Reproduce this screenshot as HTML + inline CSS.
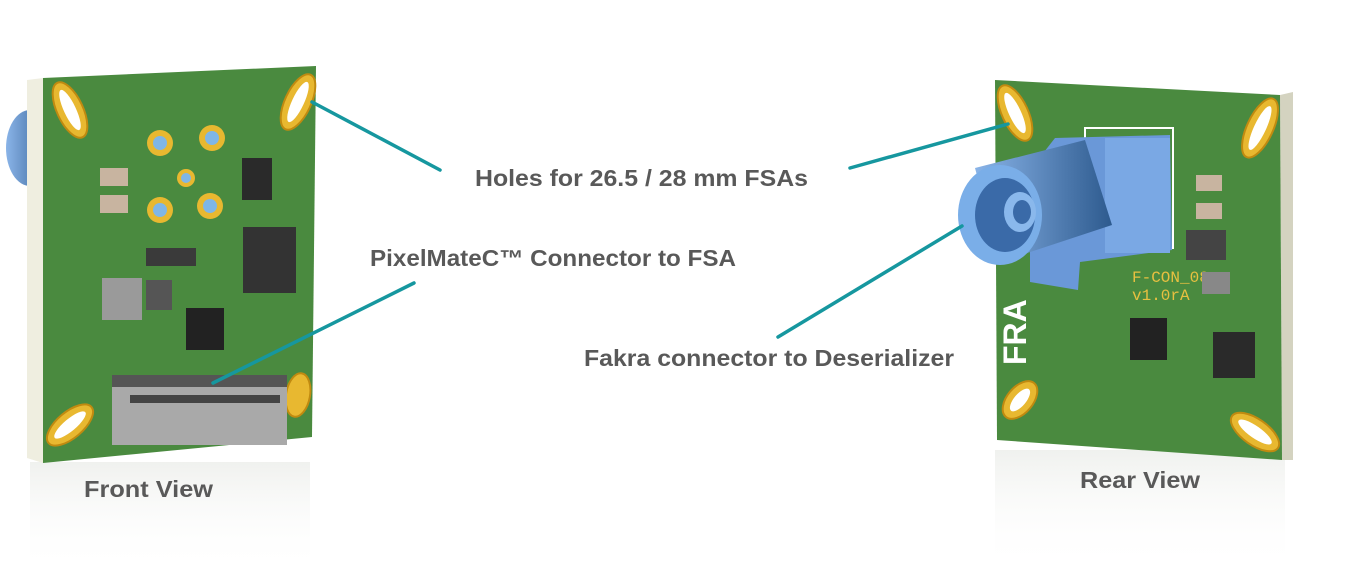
<!DOCTYPE html>
<html><head><meta charset="utf-8"><style>
html,body{margin:0;padding:0;background:#fff;}
svg{display:block}
text{font-family:"Liberation Sans",sans-serif;font-weight:bold;fill:#595959;}
</style></head><body>
<svg width="1368" height="582" viewBox="0 0 1368 582" xmlns="http://www.w3.org/2000/svg">
<defs>
<linearGradient id="refl" x1="0" y1="0" x2="0" y2="1"><stop offset="0" stop-color="#dde0da" stop-opacity="0.45"/><stop offset="1" stop-color="#fff" stop-opacity="0"/></linearGradient>
<linearGradient id="blue" x1="0" y1="0" x2="1" y2="0"><stop offset="0" stop-color="#8ab4e8"/><stop offset="1" stop-color="#2d5a8e"/></linearGradient>
</defs>
<rect x="30" y="462" width="280" height="110" fill="url(#refl)"/>
<rect x="995" y="450" width="290" height="120" fill="url(#refl)"/>

<!-- FRONT BOARD -->
<ellipse cx="30" cy="148" rx="24" ry="38" fill="url(#blue)"/>
<polygon points="27,80 43,78 43,463 27,458" fill="#efeee0"/>
<polygon points="43,78 316,66 312,437 43,463" fill="#4a8a3f"/>
<g fill="#e8b830" stroke="#c08a10" stroke-width="2">
<ellipse cx="70" cy="110" rx="13" ry="30" transform="rotate(-25 70 110)"/>
<ellipse cx="298" cy="102" rx="13" ry="30" transform="rotate(25 298 102)"/>
<ellipse cx="70" cy="425" rx="13" ry="28" transform="rotate(50 70 425)"/>
<ellipse cx="298" cy="395" rx="12" ry="22" transform="rotate(10 298 395)"/>
</g>
<g fill="#fff">
<ellipse cx="70" cy="110" rx="6" ry="22" transform="rotate(-25 70 110)"/>
<ellipse cx="298" cy="102" rx="6" ry="22" transform="rotate(25 298 102)"/>
<ellipse cx="70" cy="425" rx="6" ry="20" transform="rotate(50 70 425)"/>
</g>
<g fill="#e8b830"><circle cx="160" cy="143" r="13"/><circle cx="212" cy="138" r="13"/><circle cx="186" cy="178" r="9"/><circle cx="160" cy="210" r="13"/><circle cx="210" cy="206" r="13"/></g>
<g fill="#7fb6e6"><circle cx="160" cy="143" r="7"/><circle cx="212" cy="138" r="7"/><circle cx="186" cy="178" r="5"/><circle cx="160" cy="210" r="7"/><circle cx="210" cy="206" r="7"/></g>
<rect x="242" y="158" width="30" height="42" fill="#2a2a2a"/>
<rect x="243" y="227" width="53" height="66" fill="#333"/>
<rect x="186" y="308" width="38" height="42" fill="#222"/>
<rect x="102" y="278" width="40" height="42" fill="#9a9a9a"/>
<rect x="146" y="280" width="26" height="30" fill="#555"/>
<rect x="146" y="248" width="50" height="18" fill="#3a3a3a"/>
<rect x="100" y="168" width="28" height="18" fill="#c8b4a0"/>
<rect x="100" y="195" width="28" height="18" fill="#c8b4a0"/>
<rect x="112" y="375" width="175" height="70" fill="#a9a9a9"/>
<rect x="112" y="375" width="175" height="12" fill="#555"/>
<rect x="130" y="395" width="150" height="8" fill="#444"/>

<!-- REAR BOARD -->
<polygon points="1280,95 1293,92 1293,460 1282,460" fill="#d4d3c0"/>
<polygon points="995,80 1280,95 1282,460 997,440" fill="#4a8a3f"/>
<g fill="#e8b830" stroke="#c08a10" stroke-width="2">
<ellipse cx="1015" cy="113" rx="13" ry="30" transform="rotate(-25 1015 113)"/>
<ellipse cx="1260" cy="128" rx="13" ry="32" transform="rotate(25 1260 128)"/>
<ellipse cx="1020" cy="400" rx="13" ry="22" transform="rotate(40 1020 400)"/>
<ellipse cx="1255" cy="432" rx="13" ry="28" transform="rotate(-55 1255 432)"/>
</g>
<g fill="#fff">
<ellipse cx="1015" cy="113" rx="6" ry="22" transform="rotate(-25 1015 113)"/>
<ellipse cx="1260" cy="128" rx="6" ry="24" transform="rotate(25 1260 128)"/>
<ellipse cx="1020" cy="400" rx="6" ry="14" transform="rotate(40 1020 400)"/>
<ellipse cx="1255" cy="432" rx="6" ry="20" transform="rotate(-55 1255 432)"/>
</g>
<text x="0" y="0" transform="translate(1026 365) rotate(-90)" style="fill:#fff;font-size:32px">FRA</text>
<rect x="1085" y="128" width="88" height="120" fill="none" stroke="#fff" stroke-width="2"/>
<polygon points="1055,138 1170,135 1172,250 1080,262 1078,290 1030,282 1030,170" fill="#6a98d8"/>
<rect x="1105" y="138" width="65" height="115" fill="#7aa8e4"/>
<polygon points="975,168 1085,140 1112,225 1000,262" fill="url(#blue)"/>
<ellipse cx="1000" cy="215" rx="42" ry="50" fill="#7aaee8"/>
<ellipse cx="1005" cy="215" rx="30" ry="37" fill="#3a6aa8"/>
<ellipse cx="1020" cy="212" rx="16" ry="20" fill="#8ab8ec"/>
<ellipse cx="1022" cy="212" rx="9" ry="12" fill="#3a6aa8"/>
<text x="1132" y="282" style="fill:#e8c040;font-family:'Liberation Mono',monospace;font-weight:normal;font-size:16px">F-CON_08</text>
<text x="1132" y="300" style="fill:#e8c040;font-family:'Liberation Mono',monospace;font-weight:normal;font-size:16px">v1.0rA</text>
<rect x="1130" y="318" width="37" height="42" fill="#222"/>
<rect x="1213" y="332" width="42" height="46" fill="#2a2a2a"/>
<rect x="1186" y="230" width="40" height="30" fill="#444"/>
<rect x="1202" y="272" width="28" height="22" fill="#888"/>
<rect x="1196" y="175" width="26" height="16" fill="#c8b4a0"/>
<rect x="1196" y="203" width="26" height="16" fill="#c8b4a0"/>

<g stroke="#16979f" stroke-width="3.5" stroke-linecap="round">
<line x1="312" y1="102" x2="440" y2="170"/>
<line x1="850" y1="168" x2="1008" y2="124"/>
<line x1="414" y1="283" x2="213" y2="383"/>
<line x1="778" y1="337" x2="962" y2="226"/>
</g>

<text x="475" y="186" font-size="23" textLength="333" lengthAdjust="spacingAndGlyphs">Holes for 26.5 / 28 mm FSAs</text>
<text x="370" y="266" font-size="23" textLength="366" lengthAdjust="spacingAndGlyphs">PixelMateC™ Connector to FSA</text>
<text x="584" y="366" font-size="23" textLength="370" lengthAdjust="spacingAndGlyphs">Fakra connector to Deserializer</text>
<text x="84" y="497" font-size="23" textLength="129" lengthAdjust="spacingAndGlyphs">Front View</text>
<text x="1080" y="488" font-size="23" textLength="120" lengthAdjust="spacingAndGlyphs">Rear View</text>
</svg>
</body></html>
